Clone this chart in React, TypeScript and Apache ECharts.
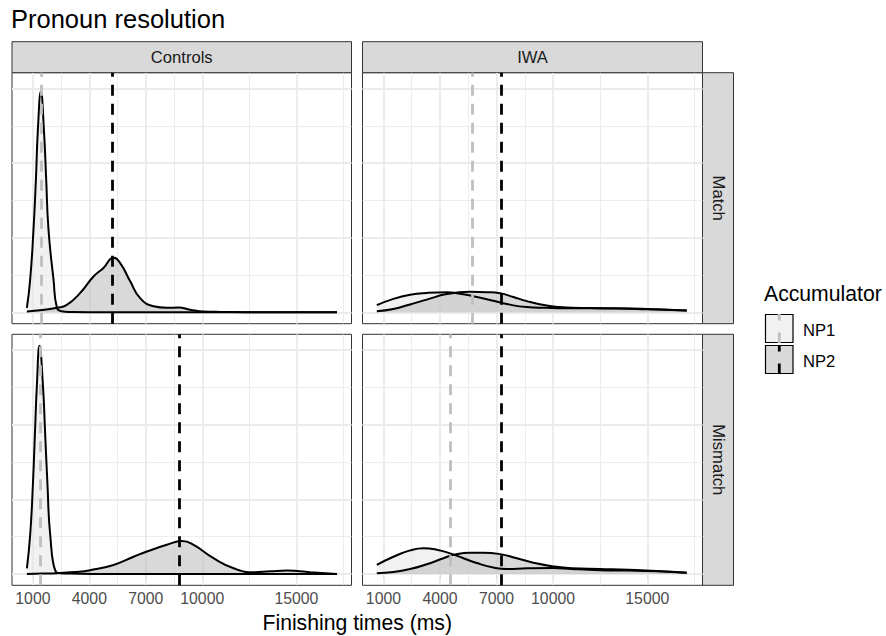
import React, { useEffect, useRef } from "react";
import * as echarts from "echarts";

const FONT = "'Liberation Sans', Arial, Helvetica, sans-serif";

const columnLabels = ["Controls", "IWA"];
const rowLabels = ["Match", "Mismatch"];
const accumulatorLabels = ["NP1", "NP2"];
const xBreaks = [1000, 4000, 7000, 10000, 15000];
const xMinorBreaks = [2500, 5500, 8500, 12500, 17500];
const yBreaks = [0, 2, 4, 6];
const yMinorBreaks = [1, 3, 5];

// Densities (relative units); x = finishing time (ms)
const ctrlMatchNP1X = [681, 856, 1032, 1160, 1266, 1425, 1585, 1707, 1829, 2095, 2276, 2500, 3000, 5000, 10000, 17160];
const ctrlMatchNP1Y = [0.12, 0.88, 2.22, 3.56, 4.9, 5.92, 4.9, 3.56, 2.22, 0.88, 0.12, 0.03, 0.01, 0, 0, 0];
const ctrlMatchNP2X = [681, 1500, 2275, 2800, 3515, 4220, 4750, 5285, 5640, 6170, 6700, 7410, 8120, 8740, 9360, 10050, 11000, 13000, 15000, 17160];
const ctrlMatchNP2Y = [0.02, 0.06, 0.12, 0.2, 0.52, 0.96, 1.19, 1.46, 1.32, 0.83, 0.38, 0.16, 0.12, 0.13, 0.07, 0.02, 0.01, 0, 0, 0];

const ctrlMismatchNP1X = [681, 856, 1000, 1106, 1213, 1351, 1532, 1654, 1776, 1920, 2223, 2450, 3000, 5000, 10000, 17160];
const ctrlMismatchNP1Y = [0.15, 1.05, 2.39, 3.73, 5.07, 6.12, 5.07, 3.73, 2.39, 1.05, 0.05, 0.02, 0.01, 0, 0, 0];
const ctrlMismatchNP2X = [681, 1500, 2275, 3200, 4045, 5285, 6350, 7060, 8120, 8920, 9540, 10600, 11670, 12730, 13600, 14500, 15740, 17160];
const ctrlMismatchNP2Y = [0, 0.01, 0.02, 0.05, 0.1, 0.24, 0.46, 0.6, 0.78, 0.88, 0.78, 0.42, 0.15, 0.045, 0.07, 0.09, 0.045, 0];

const iwaMatchNP1X = [650, 1530, 2416, 3302, 4363, 5069, 5775, 6836, 7546, 8607, 9668, 10500, 12000, 13500, 15000, 17095];
const iwaMatchNP1Y = [0.19, 0.36, 0.47, 0.52, 0.54, 0.5, 0.43, 0.31, 0.22, 0.14, 0.12, 0.11, 0.11, 0.1, 0.08, 0.05];
const iwaMatchNP2X = [650, 1530, 2416, 3302, 4363, 5598, 6483, 7191, 7896, 8607, 9668, 10374, 11000, 12500, 14000, 15500, 17095];
const iwaMatchNP2Y = [0.03, 0.09, 0.21, 0.34, 0.49, 0.55, 0.54, 0.51, 0.41, 0.3, 0.18, 0.14, 0.12, 0.11, 0.1, 0.08, 0.05];

const iwaMismatchNP1X = [650, 1530, 2416, 3122, 3833, 4538, 5244, 5955, 6836, 7546, 8607, 10019, 11000, 12500, 14000, 15500, 17095];
const iwaMismatchNP1Y = [0.24, 0.46, 0.63, 0.69, 0.65, 0.55, 0.42, 0.29, 0.17, 0.13, 0.15, 0.16, 0.13, 0.1, 0.09, 0.07, 0.03];
const iwaMismatchNP2X = [650, 1530, 2416, 3302, 4183, 4714, 5598, 6305, 7191, 8077, 8958, 10019, 11000, 12500, 14000, 15500, 17095];
const iwaMismatchNP2Y = [0.02, 0.05, 0.13, 0.26, 0.42, 0.51, 0.57, 0.57, 0.53, 0.42, 0.3, 0.2, 0.15, 0.13, 0.11, 0.08, 0.03];

// Mean finishing times (dashed lines); panel order: Controls/Match, IWA/Match, Controls/Mismatch, IWA/Mismatch
const np1Means = [1441, 5730, 1388, 4538];
const np2Means = [5200, 7235, 8778, 7228];

const panelCurves = [
  [[ctrlMatchNP1X, ctrlMatchNP1Y], [ctrlMatchNP2X, ctrlMatchNP2Y]],
  [[iwaMatchNP1X, iwaMatchNP1Y], [iwaMatchNP2X, iwaMatchNP2Y]],
  [[ctrlMismatchNP1X, ctrlMismatchNP1Y], [ctrlMismatchNP2X, ctrlMismatchNP2Y]],
  [[iwaMismatchNP1X, iwaMismatchNP1Y], [iwaMismatchNP2X, iwaMismatchNP2Y]],
];

const X_MIN = -110;
const X_MAX = 17930;
const Y_MIN = -0.306;
const Y_MAX = 6.426;

const panelLefts = [12, 362.5];
const panelWidths = [339.5, 340];
const panelTops = [72.7, 334.3];
const PANEL_H = 251;
const STRIP = 31;

const fillColors = ["rgba(230,230,230,0.55)", "rgba(185,185,185,0.55)"];
const keyFills = ["#f1f1f1", "#d9d9d9"];
const vlineColors = ["#bfbfbf", "#000000"];

function buildOption() {
  const grid: any[] = [];
  const xAxis: any[] = [];
  const yAxis: any[] = [];
  const series: any[] = [];
  const graphic: any[] = [];

  for (let r = 0; r < 2; r++) {
    for (let c = 0; c < 2; c++) {
      const i = r * 2 + c;
      grid.push({
        left: panelLefts[c],
        top: panelTops[r],
        width: panelWidths[c],
        height: PANEL_H,
        show: true,
        backgroundColor: "#ffffff",
        borderColor: "#333333",
        borderWidth: 1,
        containLabel: false,
      });
      xAxis.push({
        type: "value",
        gridIndex: i,
        min: X_MIN,
        max: X_MAX,
        show: r === 1,
        axisLine: { show: false },
        axisTick: {
          show: true,
          customValues: xBreaks,
          length: 4.5,
          lineStyle: { color: "#333333", width: 1 },
        },
        axisLabel: {
          show: true,
          customValues: xBreaks,
          formatter: (v: number) => String(v),
          color: "#4d4d4d",
          fontSize: 15.8,
          fontFamily: FONT,
          margin: 5,
        },
        splitLine: { show: false },
      });
      yAxis.push({
        type: "value",
        gridIndex: i,
        min: Y_MIN,
        max: Y_MAX,
        show: false,
        splitLine: { show: false },
      });

      const gridData: any[] = [];
      xBreaks.forEach((v) =>
        gridData.push({ coords: [[v, Y_MIN], [v, Y_MAX]], lineStyle: { width: 1.8 } })
      );
      xMinorBreaks.forEach((v) =>
        gridData.push({ coords: [[v, Y_MIN], [v, Y_MAX]], lineStyle: { width: 0.9 } })
      );
      yBreaks.forEach((v) =>
        gridData.push({ coords: [[X_MIN, v], [X_MAX, v]], lineStyle: { width: 1.8 } })
      );
      yMinorBreaks.forEach((v) =>
        gridData.push({ coords: [[X_MIN, v], [X_MAX, v]], lineStyle: { width: 0.9 } })
      );
      series.push({
        type: "lines",
        coordinateSystem: "cartesian2d",
        xAxisIndex: i,
        yAxisIndex: i,
        silent: true,
        z: 1,
        polyline: false,
        symbol: "none",
        lineStyle: { color: "#ebebeb", opacity: 1 },
        data: gridData,
      });

      panelCurves[i].forEach((curve, k) => {
        const [xs, ys] = curve;
        series.push({
          type: "line",
          name: accumulatorLabels[k],
          xAxisIndex: i,
          yAxisIndex: i,
          z: 2,
          smooth: 0.5,
          showSymbol: false,
          symbol: "none",
          silent: true,
          lineStyle: { color: "#000000", width: 2 },
          areaStyle: { color: fillColors[k], opacity: 1, origin: 0 },
          data: xs.map((x: number, j: number) => [x, ys[j]]),
        });
      });

      series.push({
        type: "lines",
        coordinateSystem: "cartesian2d",
        xAxisIndex: i,
        yAxisIndex: i,
        silent: true,
        z: 3,
        polyline: false,
        symbol: "none",
        lineStyle: { width: 2.8, type: [11, 8], opacity: 1, cap: "butt" },
        data: [
          { coords: [[np1Means[i], Y_MIN], [np1Means[i], Y_MAX]], lineStyle: { color: vlineColors[0] } },
          { coords: [[np2Means[i], Y_MIN], [np2Means[i], Y_MAX]], lineStyle: { color: vlineColors[1] } },
        ],
      });
    }
  }

  // Title
  graphic.push({
    type: "text",
    x: 11,
    y: 18.5,
    style: { text: "Pronoun resolution", fill: "#000", fontSize: 25.5, fontFamily: FONT, align: "left", verticalAlign: "middle" },
  });

  // Column strips
  for (let c = 0; c < 2; c++) {
    graphic.push({
      type: "rect",
      shape: { x: panelLefts[c], y: panelTops[0] - STRIP, width: panelWidths[c], height: STRIP },
      style: { fill: "#d9d9d9", stroke: "#333333", lineWidth: 1 },
    });
    graphic.push({
      type: "text",
      x: panelLefts[c] + panelWidths[c] / 2,
      y: panelTops[0] - STRIP / 2,
      style: { text: columnLabels[c], fill: "#1a1a1a", fontSize: 16.6, fontFamily: FONT, align: "center", verticalAlign: "middle" },
    });
  }
  // Row strips
  const stripX = panelLefts[1] + panelWidths[1];
  for (let r = 0; r < 2; r++) {
    graphic.push({
      type: "rect",
      shape: { x: stripX, y: panelTops[r], width: STRIP, height: PANEL_H },
      style: { fill: "#d9d9d9", stroke: "#333333", lineWidth: 1 },
    });
    graphic.push({
      type: "text",
      x: stripX + STRIP / 2,
      y: panelTops[r] + PANEL_H / 2,
      rotation: -Math.PI / 2,
      style: { text: rowLabels[r], fill: "#1a1a1a", fontSize: 16.6, fontFamily: FONT, align: "center", verticalAlign: "middle" },
    });
  }

  // Axis title
  graphic.push({
    type: "text",
    x: (panelLefts[0] + panelLefts[1] + panelWidths[1]) / 2,
    y: 622,
    style: { text: "Finishing times (ms)", fill: "#000", fontSize: 21.2, fontFamily: FONT, align: "center", verticalAlign: "middle" },
  });

  // Legend
  graphic.push({
    type: "text",
    x: 764,
    y: 293.5,
    style: { text: "Accumulator", fill: "#000", fontSize: 21.2, fontFamily: FONT, align: "left", verticalAlign: "middle" },
  });
  const keyTops = [314.5, 345.5];
  for (let k = 0; k < 2; k++) {
    const t = keyTops[k];
    graphic.push({
      type: "rect",
      shape: { x: 765.5, y: t, width: 27.5, height: 28 },
      style: { fill: keyFills[k], stroke: "#000", lineWidth: 1.2 },
    });
    graphic.push({
      type: "line",
      shape: { x1: 779.3, y1: t - 0.5, x2: 779.3, y2: t + 6 },
      style: { stroke: vlineColors[k], lineWidth: 2.8 },
    });
    graphic.push({
      type: "line",
      shape: { x1: 779.3, y1: t + 18, x2: 779.3, y2: t + 28.5 },
      style: { stroke: vlineColors[k], lineWidth: 2.8 },
    });
    graphic.push({
      type: "text",
      x: 803,
      y: t + 15.5,
      style: { text: accumulatorLabels[k], fill: "#000", fontSize: 16.6, fontFamily: FONT, align: "left", verticalAlign: "middle" },
    });
  }

  return {
    animation: false,
    backgroundColor: "#ffffff",
    grid,
    xAxis,
    yAxis,
    series,
    graphic,
  };
}

export default function App() {
  const ref = useRef<HTMLDivElement>(null);
  useEffect(() => {
    if (!ref.current) return;
    const chart = echarts.init(ref.current, undefined, { renderer: "svg" });
    chart.setOption(buildOption() as any);
    return () => chart.dispose();
  }, []);
  return (
    <div
      ref={ref}
      style={{ position: "absolute", left: 0, top: 0, width: 886, height: 636 }}
    />
  );
}
